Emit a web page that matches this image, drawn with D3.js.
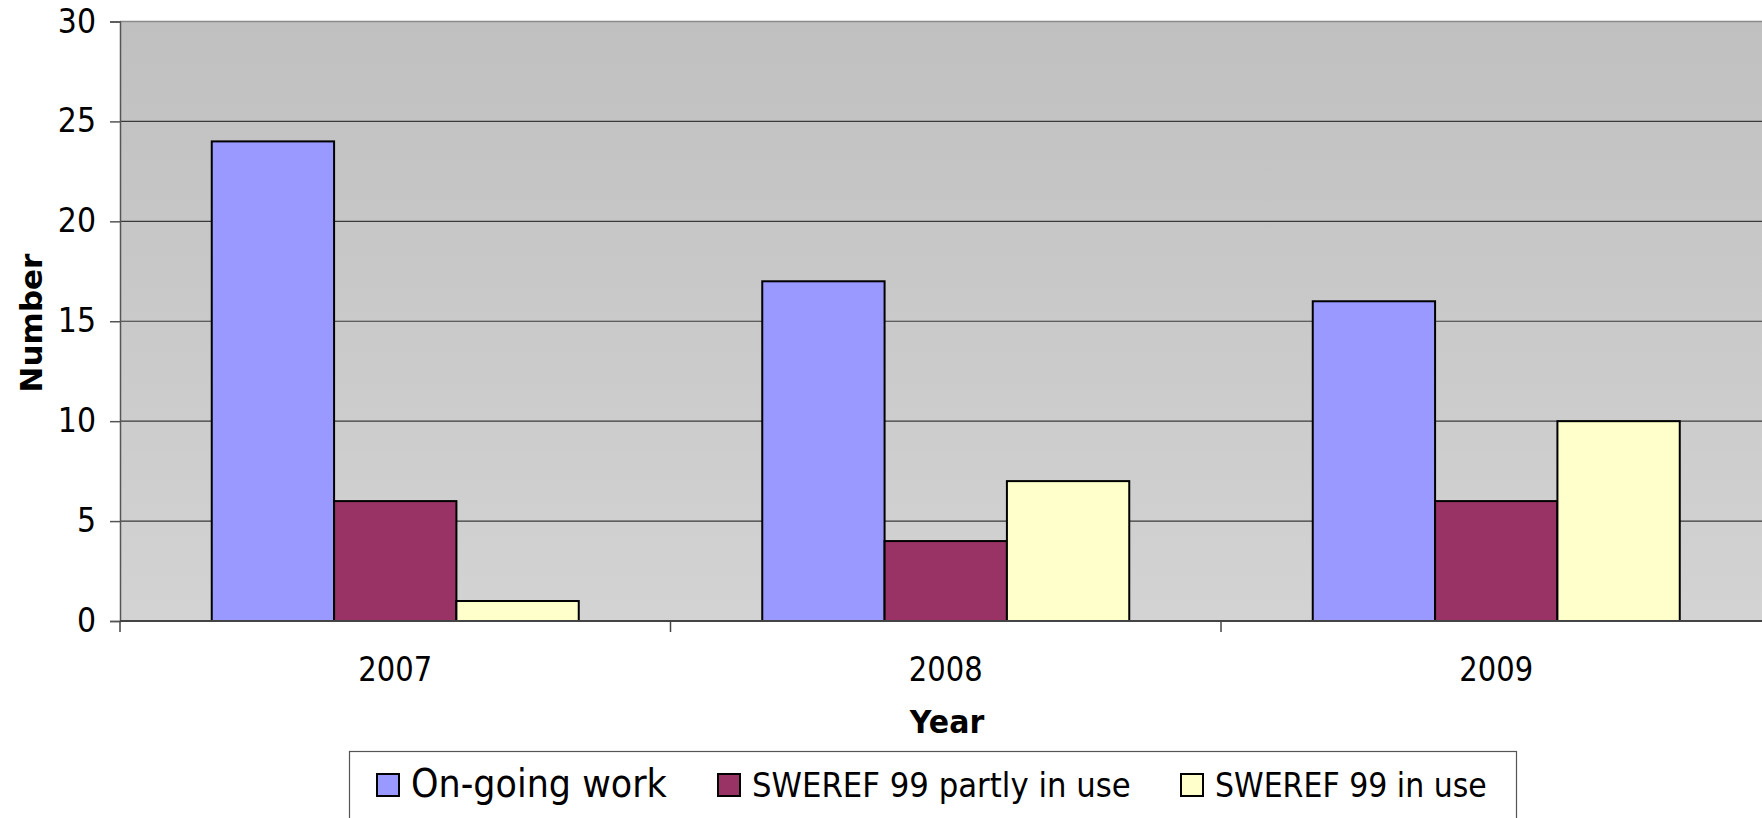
<!DOCTYPE html>
<html>
<head>
<meta charset="utf-8">
<script src="https://cdn.jsdelivr.net/npm/d3@7"></script>
<style>
  html, body { margin: 0; padding: 0; background: #fff; }
  svg { display: block; font-family: "DejaVu Sans", Verdana, sans-serif; }
</style>
</head>
<body>
<svg id="chart" width="1762" height="818"></svg>
<script>
// ── Data ─────────────────────────────────────────────────────────────
const YEARS   = ["2007", "2008", "2009"];
const SERIES  = ["On-going work", "SWEREF 99 partly in use", "SWEREF 99 in use"];
const ONGOING = [24, 17, 16];
const PARTLY  = [6, 4, 6];
const INUSE   = [1, 7, 10];
const Y_TICKS = [0, 5, 10, 15, 20, 25, 30];

const COLORS = ["#9999ff", "#993366", "#ffffcc"];
const VALUES = [ONGOING, PARTLY, INUSE];

// ── Layout ───────────────────────────────────────────────────────────
const M = { top: 21.5, left: 120, bottom: 621 };
const BAND = 550.5;

const svg = d3.select("#chart");

const x0 = d3.scaleBand().domain(YEARS)
  .range([M.left, M.left + BAND * YEARS.length]).paddingInner(0).paddingOuter(0);
const x1 = d3.scaleBand().domain(SERIES)
  .range([0, x0.bandwidth()]).paddingInner(0).paddingOuter(0.75);
const y = d3.scaleLinear().domain([0, 30]).range([M.bottom, M.top]);

const plotR = x0.range()[1];

// Plot background gradient
const grad = svg.append("defs").append("linearGradient")
  .attr("id", "bg").attr("x1", 0).attr("y1", 0).attr("x2", 0).attr("y2", 1);
grad.append("stop").attr("offset", "0%").attr("stop-color", "#c0c0c0");
grad.append("stop").attr("offset", "100%").attr("stop-color", "#d3d3d3");

svg.append("rect")
  .attr("x", M.left).attr("y", y(30))
  .attr("width", plotR - M.left).attr("height", y(0) - y(30))
  .attr("fill", "url(#bg)");

// Grid lines
svg.append("g").selectAll("line")
  .data(Y_TICKS.filter(d => d > 0 && d < 30))
  .join("line")
  .attr("x1", M.left).attr("x2", plotR)
  .attr("y1", d => y(d)).attr("y2", d => y(d))
  .attr("stroke", "#3a3a3a").attr("stroke-width", 1.2);

svg.append("line")
  .attr("x1", M.left).attr("x2", plotR)
  .attr("y1", y(30)).attr("y2", y(30))
  .attr("stroke", "#8a8a8a").attr("stroke-width", 1.5);

// Bars
const groups = svg.append("g").selectAll("g")
  .data(YEARS)
  .join("g")
  .attr("transform", d => `translate(${x0(d)},0)`);

groups.selectAll("rect")
  .data((yr, i) => SERIES.map((s, k) => ({ s, k, v: VALUES[k][i] })))
  .join("rect")
  .attr("x", d => x1(d.s))
  .attr("y", d => y(d.v))
  .attr("width", x1.bandwidth())
  .attr("height", d => y(0) - y(d.v))
  .attr("fill", d => COLORS[d.k])
  .attr("stroke", "#000")
  .attr("stroke-width", 2);

// Y axis
const yAxis = svg.append("g")
  .attr("transform", `translate(${M.left},0)`)
  .call(d3.axisLeft(y).tickValues(Y_TICKS).tickSize(10).tickPadding(14));
yAxis.select(".domain").attr("stroke", "#555").attr("stroke-width", 1.5);
yAxis.selectAll(".tick line").attr("stroke", "#555").attr("stroke-width", 1.5);
yAxis.selectAll(".tick text")
  .attr("font-size", 30).attr("fill", "#000")
  .attr("font-family", "DejaVu Sans, Verdana, sans-serif")
  .attr("transform", "scale(1,1.1)");

// X axis (ticks at band boundaries)
const xAxis = svg.append("g")
  .attr("transform", `translate(0,${M.bottom})`);
xAxis.append("line")
  .attr("x1", M.left).attr("x2", plotR)
  .attr("stroke", "#444").attr("stroke-width", 2);
xAxis.selectAll("line.tk")
  .data(YEARS.map(d => x0(d)).concat([plotR]))
  .join("line").attr("class", "tk")
  .attr("x1", d => d).attr("x2", d => d)
  .attr("y1", 0).attr("y2", 11)
  .attr("stroke", "#444").attr("stroke-width", 1.5);
xAxis.selectAll("text")
  .data(YEARS)
  .join("text")
  .attr("transform", d => `translate(${x0(d) + x0.bandwidth() / 2},60) scale(1,1.15)`)
  .attr("text-anchor", "middle")
  .attr("font-size", 29)
  .text(d => d);

// Axis titles
svg.append("text")
  .attr("transform", "translate(947,733) scale(1,1.06)")
  .attr("text-anchor", "middle")
  .attr("font-size", 30).attr("font-weight", "bold")
  .text("Year");
svg.append("text")
  .attr("transform", "rotate(-90)")
  .attr("x", -323).attr("y", 42)
  .attr("text-anchor", "middle")
  .attr("font-size", 31).attr("font-weight", "bold")
  .text("Number");

// Legend
const LEG_X = [377, 718, 1181];
const LEG_FS = [35, 30.8, 30];
const leg = svg.append("g");
leg.append("rect")
  .attr("x", 349.5).attr("y", 751.5)
  .attr("width", 1167).attr("height", 100)
  .attr("fill", "#fff").attr("stroke", "#555").attr("stroke-width", 1.2);
SERIES.forEach((s, k) => {
  const row = leg.append("g").attr("transform", `translate(${LEG_X[k]},774)`);
  row.append("rect")
    .attr("width", 22).attr("height", 22)
    .attr("fill", COLORS[k]).attr("stroke", "#000").attr("stroke-width", 2);
  row.append("text")
    .attr("transform", "translate(34,23) scale(1,1.1)")
    .attr("font-size", LEG_FS[k])
    .text(s);
});
</script>
</body>
</html>
